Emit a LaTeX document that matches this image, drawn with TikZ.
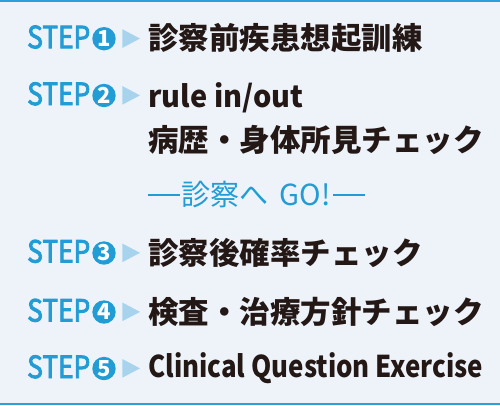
\documentclass[tikz,border=0pt]{standalone}
\usepackage{fontspec}
\usepackage{graphicx}
\setmainfont{Noto Sans CJK JP}
\newfontfamily\stepfont[FakeBold=3]{Noto Sans CJK JP}
\definecolor{bg}{HTML}{EEF3FA}
\definecolor{bar}{HTML}{2BA0D8}
\definecolor{stepblue}{HTML}{229CD5}
\definecolor{tri}{HTML}{A8D3ED}
\definecolor{ink}{HTML}{231815}
\begin{document}
\begin{tikzpicture}[x=1pt,y=-1pt,
  steplbl/.style={anchor=base west, inner sep=0pt, text=stepblue, font=\stepfont\fontsize{30.5}{32}\selectfont},
  numcirc/.style={circle, fill=stepblue, minimum size=23.4pt, inner sep=0pt, text=white, font=\bfseries\fontsize{22}{22}\selectfont},
  maintxt/.style={anchor=base west, inner sep=0pt, text=ink, font=\bfseries\fontsize{30.5}{32}\selectfont},
  lattxt/.style={anchor=base west, inner sep=0pt, text=ink, font=\bfseries\fontsize{30}{32}\selectfont},
  gotxt/.style={anchor=base west, inner sep=0pt, text=stepblue, font=\fontsize{29}{30}\selectfont},
  goline/.style={draw=stepblue, line width=1.3pt},
  tribox/.style={fill=tri}
]
\fill[bg] (0,0) rectangle (500,405);
\fill[bar] (0,0) rectangle (500,2.3);
\fill[bar] (0,402.5) rectangle (500,405);
\useasboundingbox (0,0) rectangle (500,405);

\newcommand\mystep[3]{%
  \node[steplbl] (s#1) at (27,#2) {\resizebox{63pt}{\height}{STEP}};
  \node[numcirc] (c#1) at (104,#2-9.5) {#3};
  \fill[tribox] (122.3,#2-19) -- (122.3,#2-0.3) -- (140,#2-9.65) -- cycle;
}
\mystep{1}{48.2}{1}
\mystep{2}{105}{2}
\mystep{3}{262.5}{3}
\mystep{4}{321.5}{4}
\mystep{5}{378}{5}

\node[maintxt] (t1) at (148,49.6) {診察前疾患想起訓練};
\node[lattxt] (t2) at (148,107) {\resizebox{155pt}{\height}{rule in/out}};
\node[maintxt] (t2b) at (148,151.5) {病歴・身体所見チェック};
\node[maintxt] (t3) at (148,264.5) {診察後確率チェック};
\node[maintxt] (t4) at (148,323.5) {検査・治療方針チェック};
\node[lattxt] (t5) at (148,377) {\resizebox{335pt}{\height}{Clinical Question Exercise}};

\coordinate (d1a) at (148,195);
\coordinate (d1b) at (180,195);
\coordinate (d2a) at (333,195);
\coordinate (d2b) at (365,195);
\node[gotxt] (go) at (181.5,205.5) {診察へ\hspace{11pt}GO!};
\draw[goline] (d1a) -- (d1b);
\draw[goline] (d2a) -- (d2b);
\end{tikzpicture}
\end{document}
